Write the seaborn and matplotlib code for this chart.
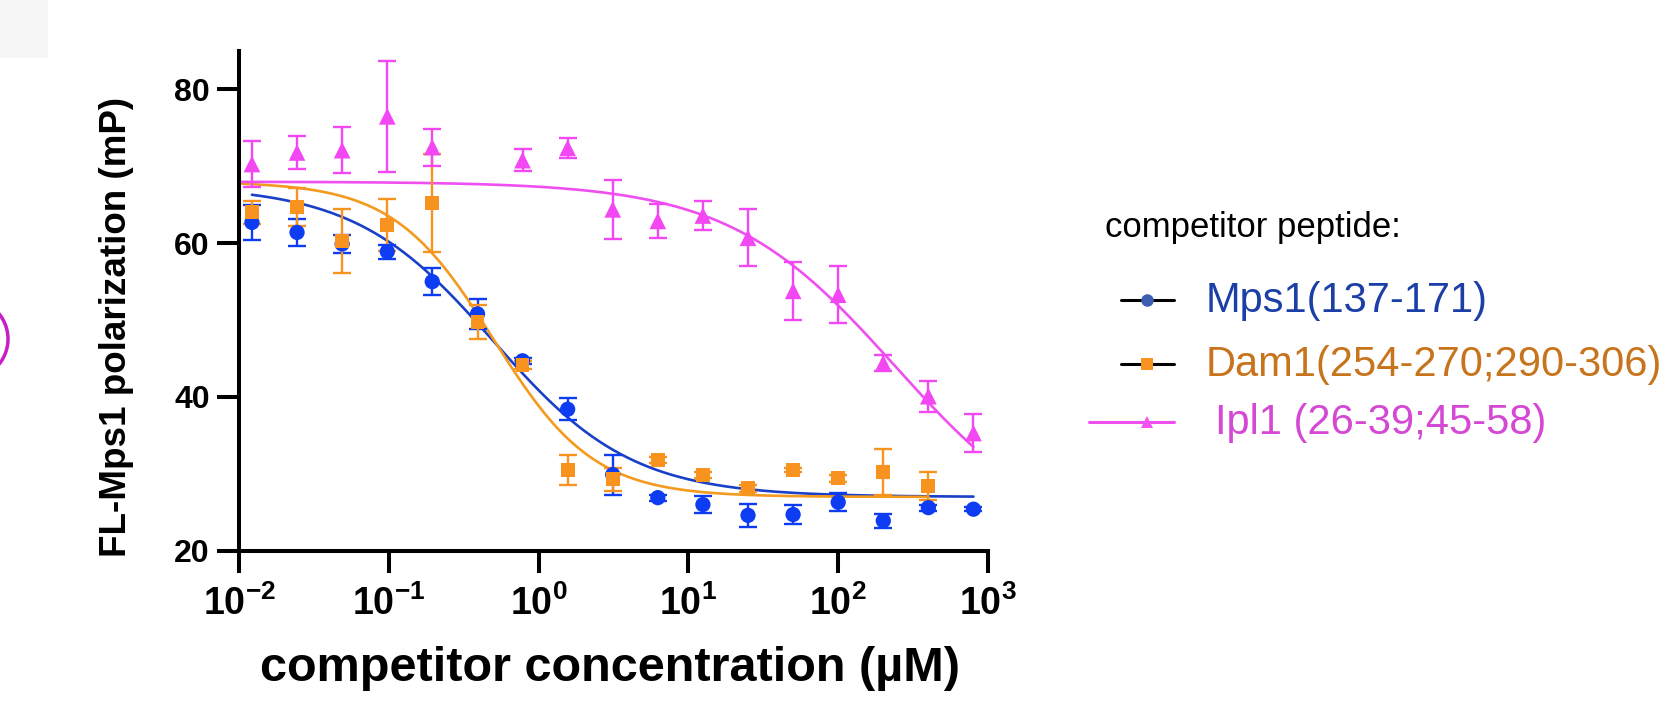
import numpy as np
import pandas as pd
import matplotlib
matplotlib.use("Agg")
import matplotlib.pyplot as plt
import seaborn as sns
from matplotlib.lines import Line2D
from matplotlib.patches import Circle, Rectangle
from matplotlib.ticker import NullLocator

# ---------------- data ----------------
conc = [0.0122, 0.0244, 0.0488, 0.0977, 0.195, 0.391, 0.781, 1.5625,
        3.125, 6.25, 12.5, 25, 50, 100, 200, 400, 800]

mps1_mean = [62.7, 61.4, 59.9, 58.9, 55.0, 50.8, 44.7, 38.4,
             29.9, 26.9, 26.0, 24.6, 24.7, 26.3, 23.9, 25.6, 25.4]
mps1_err = [2.3, 1.8, 1.2, 0.9, 1.8, 1.9, 0.4, 1.4,
            2.6, 0.4, 1.1, 1.5, 1.2, 1.2, 0.9, 0.4, 0.3]

dam1_conc = [0.0122, 0.0244, 0.0488, 0.0977, 0.195, 0.391, 0.781, 1.5625,
             3.125, 6.25, 12.5, 25, 50, 100, 200, 400]
dam1_mean = [64.0, 64.7, 60.3, 62.4, 65.2, 49.8, 44.2, 30.5,
             29.3, 31.8, 29.8, 28.1, 30.5, 29.4, 30.2, 28.4]
dam1_err = [1.5, 2.5, 4.2, 3.4, 6.4, 2.2, 0.5, 2.0,
            1.5, 0.4, 0.4, 0.5, 0.3, 0.4, 3.0, 1.8]

ipl1_conc = [0.0122, 0.0244, 0.0488, 0.0977, 0.195, 0.781, 1.5625,
             3.125, 6.25, 12.5, 25, 50, 100, 200, 400, 800]
ipl1_mean = [70.3, 71.8, 72.1, 76.5, 72.5, 70.8, 72.4,
             64.4, 62.9, 63.6, 60.7, 53.8, 53.3, 44.4, 40.1, 35.3]
ipl1_err = [3.0, 2.2, 3.0, 7.2, 2.4, 1.4, 1.3,
            3.8, 2.2, 1.9, 3.7, 3.8, 3.7, 1.0, 2.0, 2.5]

series_names = ["Mps1(137-171)", "Dam1(254-270;290-306)", "Ipl1 (26-39;45-58)"]

# fitted dose-response curves (top, bottom, IC50, Hill) and drawn x-range
fit_top = [67.5, 68.0, 68.0]
fit_bottom = [27.0, 27.0, 20.0]
fit_ic50 = [0.5, 0.5, 240.0]
fit_hill = [0.94, 1.3, 0.78]
fit_xmin = [0.0122, 0.0105, 0.0105]
fit_xmax = [800, 400, 800]

xtick_vals = [1e-2, 1e-1, 1e0, 1e1, 1e2, 1e3]
xtick_labels = [r"$\mathbf{10^{-2}}$", r"$\mathbf{10^{-1}}$", r"$\mathbf{10^{0}}$",
                r"$\mathbf{10^{1}}$", r"$\mathbf{10^{2}}$", r"$\mathbf{10^{3}}$"]
ytick_vals = [20, 40, 60, 80]

# ---------------- styling ----------------
point_colors = ["#0d3cf2", "#f7931e", "#f247f2"]
line_colors = ["#1a40c8", "#f39a1f", "#f04ff0"]
label_colors = ["#1b3fa6", "#c8741c", "#d448d4"]
markers = ["o", "s", "^"]
msizes = [11, 10, 12]

sns.set_theme(style="ticks")
plt.rcParams["font.family"] = ["Liberation Sans", "DejaVu Sans"]
plt.rcParams["mathtext.fontset"] = "custom"
plt.rcParams["mathtext.bf"] = "Liberation Sans:bold"
plt.rcParams["mathtext.rm"] = "Liberation Sans"
for k in ["text.color", "axes.labelcolor", "xtick.color", "ytick.color", "axes.edgecolor"]:
    plt.rcParams[k] = "black"

W, H = 1673, 706
fig = plt.figure(figsize=(W / 100, H / 100), dpi=100)
fig.patch.set_facecolor("white")
ax = fig.add_axes([239 / W, 155.3 / H, 749 / W, 499.7 / H])

# curves
curve_frames = []
for i, name in enumerate(series_names):
    xs = np.logspace(np.log10(fit_xmin[i]), np.log10(fit_xmax[i]), 400)
    ys = fit_bottom[i] + (fit_top[i] - fit_bottom[i]) / (1 + (xs / fit_ic50[i]) ** fit_hill[i])
    curve_frames.append(pd.DataFrame({"x": xs, "y": ys, "series": name}))
curves = pd.concat(curve_frames, ignore_index=True)
sns.lineplot(data=curves, x="x", y="y", hue="series", hue_order=series_names,
             palette=dict(zip(series_names, line_colors)), estimator=None,
             sort=False, linewidth=1.9, legend=False, ax=ax, zorder=2)

# points with error bars
pts = [
    (conc, mps1_mean, mps1_err),
    (dam1_conc, dam1_mean, dam1_err),
    (ipl1_conc, ipl1_mean, ipl1_err),
]
for i, (xv, yv, ev) in enumerate(pts):
    ax.errorbar(xv, yv, yerr=ev, fmt="none", ecolor=point_colors[i],
                elinewidth=1.7, capsize=6.5, capthick=1.7, zorder=3)
    df = pd.DataFrame({"x": xv, "y": yv})
    sns.scatterplot(data=df, x="x", y="y", marker=markers[i], s=msizes[i] ** 2,
                    color=point_colors[i], edgecolor="none", linewidth=0,
                    ax=ax, zorder=4, legend=False)

ax.set_xscale("log")
ax.set_xlim(1e-2, 1e3)
ax.set_ylim(20, 85)
ax.set_xticks(xtick_vals)
ax.set_xticklabels(xtick_labels, fontsize=27)
ax.xaxis.set_minor_locator(NullLocator())
ax.set_yticks(ytick_vals)
ax.set_yticklabels([str(v) for v in ytick_vals], fontsize=23, fontweight="bold")
for s in ["top", "right"]:
    ax.spines[s].set_visible(False)
for s in ["left", "bottom"]:
    ax.spines[s].set_linewidth(2.9)
    ax.spines[s].set_color("black")
ax.tick_params(axis="both", which="major", length=16, width=2.9, color="black",
               direction="out")
ax.tick_params(axis="y", pad=5)
ax.tick_params(axis="x", pad=9)

ax.set_xlabel("competitor concentration (µM)", fontsize=35, fontweight="bold")
ax.xaxis.set_label_coords(0.495, -0.19)
ax.set_ylabel("FL-Mps1 polarization (mP)", fontsize=26.5, fontweight="bold")
ax.yaxis.set_label_coords(-0.14, 0.448)

# ---------------- legend (manual) ----------------
def fx(px):
    return px / W

def fy(py):
    return 1 - py / H

fig.text(fx(1105), fy(237), "competitor peptide:", fontsize=25, color="black",
         va="baseline", ha="left")
rows_handle_y = [300, 364, 422]
rows_text_y = [312, 376, 434]
handle_x0 = [1121, 1121, 1089]
handle_line_colors = ["black", "black", line_colors[2]]
legend_marker_colors = ["#3d5db0", "#f7931e", "#f452f4"]
text_x = [1206, 1206, 1215]
for i, name in enumerate(series_names):
    fig.add_artist(Line2D([fx(handle_x0[i]), fx(1174)], [fy(rows_handle_y[i])] * 2,
                          transform=fig.transFigure, color=handle_line_colors[i],
                          linewidth=2.2))
    fig.add_artist(Line2D([fx(1147)], [fy(rows_handle_y[i])], transform=fig.transFigure,
                          marker=markers[i], markersize=9, color=legend_marker_colors[i],
                          markeredgewidth=0, linestyle="none"))
    fig.text(fx(text_x[i]), fy(rows_text_y[i]), name, fontsize=30, color=label_colors[i],
             va="baseline", ha="left")

# cropped artefacts at the left edge of the reference
fig.add_artist(Rectangle((0, fy(58)), fx(48), 58 / H, transform=fig.transFigure,
                         facecolor="#f6f6f6", edgecolor="none"))
fig.add_artist(Circle((-0.32, (H - 339) / 100), 0.40, transform=fig.dpi_scale_trans,
                      facecolor="none", edgecolor="#c81ec8", linewidth=2.5))

fig.savefig("out.png", dpi=100, facecolor="white")
